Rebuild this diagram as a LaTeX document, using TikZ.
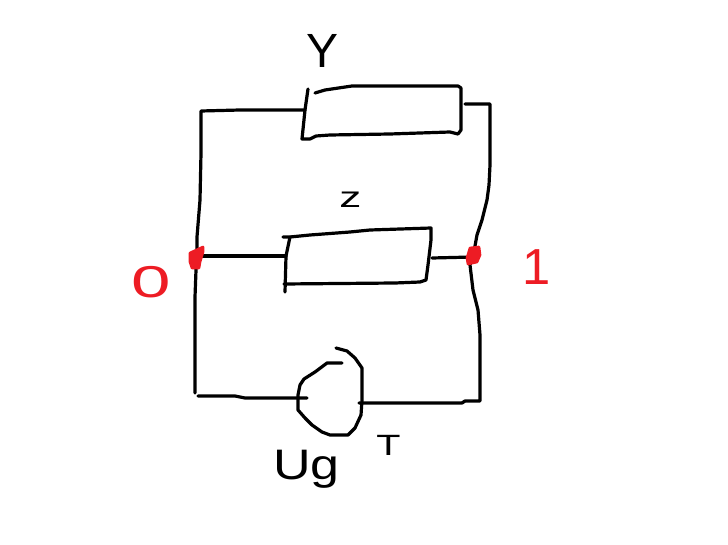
\documentclass[tikz,border=0pt]{standalone}
\usepackage{fontspec}
\setmainfont{Liberation Sans}
\definecolor{paintred}{HTML}{ED1C24}
\tikzset{
  wire/.style={draw=black,line width=2.4pt,line cap=round,line join=round},
  redmark/.style={draw=paintred,fill=paintred,line width=2pt,line join=round},
  label/.style={inner sep=0pt,anchor=base west,text=black},
  redlabel/.style={label,text=paintred},
}
\newcommand{\fs}[1]{\fontsize{#1}{#1}\selectfont}
\begin{document}
\begin{tikzpicture}[x=0.75pt,y=-0.75pt]
\useasboundingbox (0,0) rectangle (728,545);
% connection points
\coordinate (n0) at (197,256);
\coordinate (n1) at (473,257);
\coordinate (yL) at (305,110);
\coordinate (yR) at (465,104);
\coordinate (zL) at (286,256);
\coordinate (zR) at (432,258);
\coordinate (tL) at (307,398);
\coordinate (tR) at (359,403);
\coordinate (cl) at (195,393);
\coordinate (cr) at (198,396);
% left rail
\draw[wire] (yL) -- (240,110) -- (201,111) -- (201,153) -- (200,200) -- (197,237) -- (n0);
\draw[wire] (n0) -- (196,270) -- (195,297) -- (cl);
\draw[wire] (cr) -- (235,396) -- (245,398) -- (tL);
% right rail
\draw[wire] (yR) -- (490,104) -- (490,165) -- (489,185) -- (487,200) -- (482,220) -- (477,235) -- (n1);
\draw[wire] (n1) -- (470,265) -- (473,290) -- (478,310) -- (480,335) -- (480,401) -- (465,401) -- (462,403) -- (tR);
% middle branch
\draw[wire] (n0) -- (zL);
\draw[wire] (zR) -- (n1);
% Y box
\draw[wire] (308,89) -- (yL) -- (302,139) -- (310,139) -- (316,136) -- (330,135) -- (390,134) -- (450,132) -- (458,134) -- (461,130) -- (461,88) -- (458,86) -- (352,86) -- (325,90) -- (315,93);
% Z box
\draw[wire] (283,237) -- (290,237) -- (310,235) -- (350,232) -- (370,230) -- (431,228) -- (431,240) -- (428,265) -- (426,280) -- (420,282) -- (395,283) -- (284,284);
\draw[wire] (290,237) -- (zL) -- (285,292);
% T element
\draw[wire] (342,363) -- (327,363) -- (315,372) -- (304,379) -- (300,385) -- (298,395) -- (298,410) -- (305,418) -- (312,425) -- (322,432) -- (330,435) -- (348,435) -- (355,428) -- (361,415) -- (362,400) -- (362,368) -- (355,358) -- (347,351) -- (336,348);
% red junction marks
\draw[redmark] (190,253) -- (203,247) -- (203,252) -- (200,262) -- (199,268) -- (192,268) -- (190,262) -- cycle;
\draw[redmark] (470,248) -- (479,247) -- (480,255) -- (477,262) -- (468,264) -- (467,258) -- cycle;
% labels
\node[label] (ly) at (306,68) {\fs{36pt}Y};
\node[label] (lz) at (339,208) {\fs{22pt}\scalebox{1.5}[1]{z}};
\node[label] (lt) at (376,455) {\fs{22pt}\scalebox{1.35}[1]{T}};
\node[label] (lug) at (273,479) {\fs{32pt}\scalebox{1.22}[1]{Ug}};
\node[redlabel] (l0) at (131,297) {\fs{38pt}\scalebox{1.4}[0.88]{0}};
\node[redlabel] (l1) at (522,285) {\fs{38pt}1};
\end{tikzpicture}
\end{document}
